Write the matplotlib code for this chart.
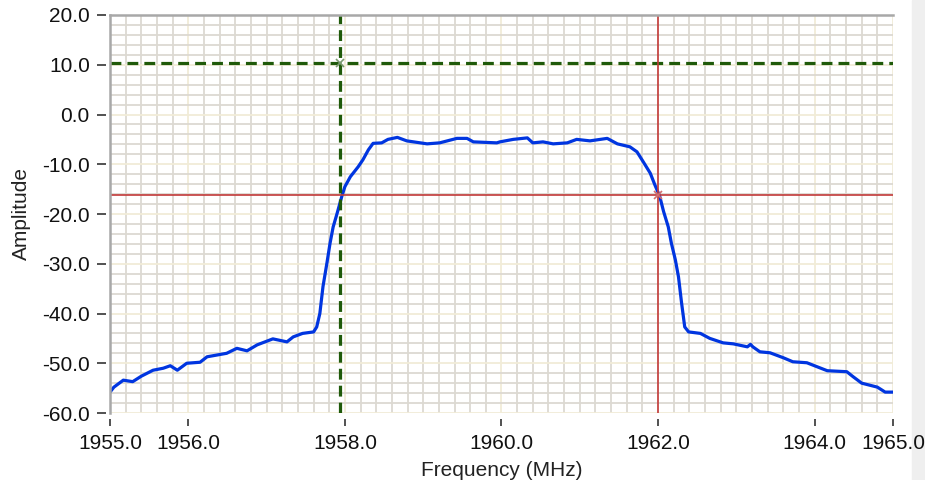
# Spectrum plot with two cursors

# import from modules
import matplotlib.pyplot as plt
import numpy as np

# spectrum data (frequency in MHz, amplitude)
freq = [1955.00, 1955.05, 1955.17, 1955.29, 1955.40, 1955.55, 1955.68, 1955.77,
        1955.86, 1955.98, 1956.15, 1956.24, 1956.49, 1956.62, 1956.75, 1956.88,
        1957.08, 1957.26, 1957.34, 1957.46, 1957.60, 1957.64, 1957.68, 1957.72,
        1957.77, 1957.81, 1957.85, 1957.90, 1957.96, 1958.00, 1958.07, 1958.17,
        1958.23, 1958.30, 1958.36, 1958.47, 1958.55, 1958.67, 1958.79, 1959.05,
        1959.21, 1959.43, 1959.56, 1959.64, 1959.94, 1959.98, 1960.15, 1960.33,
        1960.40, 1960.53, 1960.66, 1960.84, 1960.96, 1961.13, 1961.35, 1961.48,
        1961.64, 1961.73, 1961.81, 1961.90, 1961.96, 1962.02, 1962.07, 1962.13,
        1962.17, 1962.22, 1962.26, 1962.30, 1962.34, 1962.39, 1962.54, 1962.66,
        1962.83, 1962.96, 1963.14, 1963.18, 1963.21, 1963.30, 1963.43, 1963.60,
        1963.72, 1963.90, 1964.03, 1964.16, 1964.41, 1964.49, 1964.60, 1964.80,
        1964.90, 1965.00]
amplitude = [-55.8, -54.8, -53.4, -53.7, -52.6, -51.4, -51.0, -50.5,
             -51.4, -50.0, -49.8, -48.7, -48.0, -47.0, -47.5, -46.3,
             -45.1, -45.7, -44.7, -44.0, -43.7, -42.7, -40.0, -34.6,
             -29.9, -25.9, -22.6, -19.9, -16.5, -14.5, -12.5, -10.5,
             -9.1, -7.1, -5.8, -5.7, -5.0, -4.6, -5.3, -5.9,
             -5.7, -4.8, -4.8, -5.5, -5.7, -5.5, -5.0, -4.7,
             -5.7, -5.5, -5.9, -5.7, -5.0, -5.3, -4.8, -5.9,
             -6.5, -7.5, -9.5, -11.8, -14.2, -16.4, -19.5, -22.6,
             -25.9, -29.2, -32.6, -37.9, -42.7, -43.7, -44.0, -45.0,
             -45.9, -46.1, -46.7, -46.2, -46.7, -47.7, -47.9, -48.9,
             -49.7, -49.9, -50.7, -51.5, -51.7, -52.7, -54.0, -54.8,
             -55.8, -55.8]

# cursors (x, y)
cursor1 = (1957.94, 10.3)   # green dashed
cursor2 = (1962.0, -16.2)   # red solid

# axis ticks
x_ticks = [1955, 1956, 1958, 1960, 1962, 1964, 1965]
y_ticks = [20, 10, 0, -10, -20, -30, -40, -50, -60]

plt.rcParams['font.family'] = ['Liberation Sans', 'DejaVu Sans']

fig = plt.figure(figsize=(9.25, 4.8), dpi=100)
ax = fig.add_axes([110 / 925, 1 - 413 / 480, 783 / 925, 398 / 480])

ax.set_xlim(1955, 1965)
ax.set_ylim(-60, 20)

# ticks and labels
ax.set_xticks(x_ticks)
ax.set_xticklabels(["{:.1f}".format(t) for t in x_ticks])
ax.set_xticks(np.arange(1955, 1965.01, 0.2), minor=True)
ax.set_yticks(y_ticks)
ax.set_yticklabels(["{:.1f}".format(t) for t in y_ticks])
ax.set_yticks(np.arange(-60, 20.01, 2), minor=True)

ax.tick_params(which='major', length=6.5, width=1.2, color='#333333',
               labelsize=15, labelcolor='#111111')
ax.tick_params(axis='y', which='major', pad=5)
ax.tick_params(axis='x', which='major', length=5, pad=6)
ax.tick_params(which='minor', length=0)

# grid: gray minor lines, cream major lines
ax.grid(which='minor', color='#dcd9d2', linewidth=1.3)
ax.grid(which='major', color='#f1ecd8', linewidth=1.3)
ax.set_axisbelow(True)

# ticks sit a little away from the plot area
for side in ['left', 'right', 'top', 'bottom']:
    ax.spines[side].set_visible(False)
ax.spines['left'].set_position(('outward', 3))
ax.spines['bottom'].set_position(('outward', 4))

# gray frame on left and top
ax.plot([0, 0], [0, 1], transform=ax.transAxes, color='#a8a8a8',
        linewidth=1.8, clip_on=False, zorder=5)
ax.plot([0, 1], [1, 1], transform=ax.transAxes, color='#a8a8a8',
        linewidth=1.8, clip_on=False, zorder=5)

# spectrum trace
ax.plot(freq, amplitude, color='#0035e0', linewidth=2.3, zorder=3)

# cursor 1
ax.axvline(cursor1[0], color='#1f5a0a', linewidth=2.3, linestyle=(0, (3.4, 1.9)), zorder=4)
ax.axhline(cursor1[1], color='#1f5a0a', linewidth=2.3, linestyle=(0, (3.4, 1.9)), zorder=4)
ax.plot(cursor1[0], cursor1[1], marker='x', color='#7a9a70', markersize=6,
        markeredgewidth=1.2, zorder=6)

# cursor 2
ax.axvline(cursor2[0], color='#c23a3a', linewidth=1.2, zorder=4)
ax.axhline(cursor2[1], color='#c23a3a', linewidth=1.2, zorder=4)
ax.plot(cursor2[0], cursor2[1], marker='x', color='#d07070', markersize=6,
        markeredgewidth=1.2, zorder=6)

ax.set_xlabel('Frequency (MHz)', fontsize=15, labelpad=6, color='#222222')
ax.set_ylabel('Amplitude', fontsize=15, labelpad=8, color='#222222')

# light gray strip at the right edge, behind the text
fig.patches.append(plt.Rectangle((912 / 925, 0), 13 / 925, 1, transform=fig.transFigure,
                                 color='#efefef', zorder=-1))

plt.savefig('out.png', dpi=100)
